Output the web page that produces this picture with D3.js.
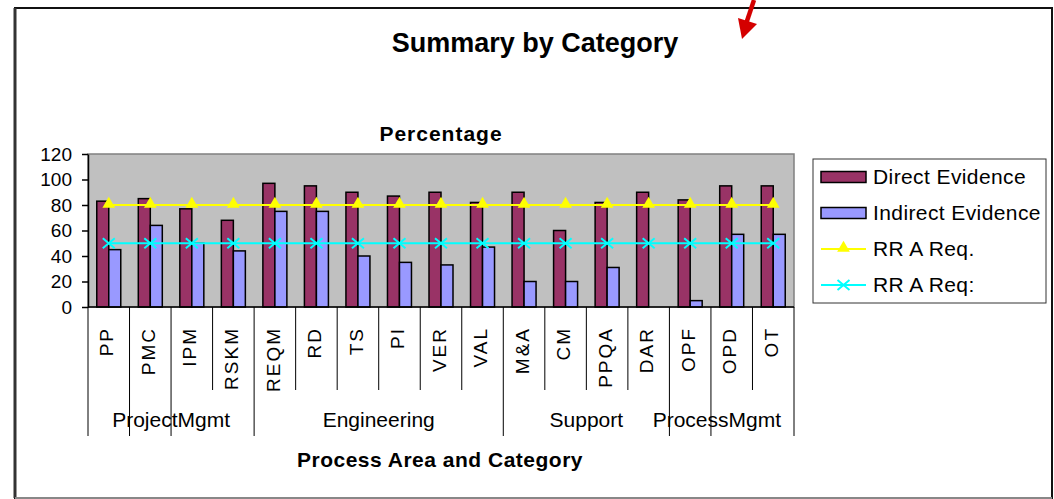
<!DOCTYPE html>
<html>
<head>
<meta charset="utf-8">
<script src="https://cdn.jsdelivr.net/npm/d3@7"></script>
<style>
  html, body { margin: 0; padding: 0; background: #fff; }
  svg { display: block; }
</style>
</head>
<body>
<div id="chart"></div>
<script>
// ---- data ----
const categories = ["PP", "PMC", "IPM", "RSKM", "REQM", "RD", "TS", "PI", "VER", "VAL",
                    "M&A", "CM", "PPQA", "DAR", "OPF", "OPD", "OT"];
const direct   = [83, 85, 77, 68, 97, 95, 90, 87, 90, 82, 90, 60, 82, 90, 84, 95, 95];
const indirect = [45, 64, 50, 44, 75, 75, 40, 35, 33, 47, 20, 20, 31, 0, 5, 57, 57];
const reqA     = categories.map(() => 80);   // RR A Req.
const reqB     = categories.map(() => 50);   // RR A Req:
const groups = [
  { name: "ProjectMgmt", start: 0, end: 4 },
  { name: "Engineering", start: 4, end: 10 },
  { name: "Support", start: 10, end: 14 },
  { name: "ProcessMgmt", start: 14, end: 17 },
];
// category boundaries that carry the long divider (as Excel drew them)
const longDividers = [0, 1, 2, 4, 10, 14, 15, 17];
const yTicks = [0, 20, 40, 60, 80, 100, 120];

const COLORS = {
  direct: "#993366",
  indirect: "#9999ff",
  reqA: "#ffff00",
  reqB: "#00ffff",
  plotBg: "#c0c0c0",
  arrow: "#d40000",
};
const FONT = "'Liberation Sans', Arial, sans-serif";

// ---- layout ----
const W = 1054, H = 499;
const plot = { x0: 88, x1: 794, y0: 154, y1: 307 };

const svg = d3.select("#chart").append("svg")
  .attr("width", W).attr("height", H)
  .style("font-family", FONT);

// outer frame
svg.append("rect")
  .attr("x", 15).attr("y", 8).attr("width", 1037).attr("height", 490)
  .attr("fill", "#fff").attr("stroke", "#111").attr("stroke-width", 2);
svg.append("line").attr("x1", 15).attr("y1", 8).attr("x2", 15).attr("y2", 498)
  .attr("stroke", "#333").attr("stroke-width", 3);
svg.append("line").attr("x1", 15).attr("y1", 498).attr("x2", 1052).attr("y2", 498)
  .attr("stroke", "#888").attr("stroke-width", 2);

// red arrow annotation
svg.append("path")
  .attr("d", "M754,0 L746,24")
  .attr("stroke", COLORS.arrow).attr("stroke-width", 4.5).attr("fill", "none");
svg.append("path")
  .attr("d", "M738,18 L757,24 L742,39 Z")
  .attr("fill", COLORS.arrow);

// titles
svg.append("text")
  .attr("x", 535).attr("y", 52).attr("text-anchor", "middle")
  .attr("font-size", 27).attr("font-weight", 700)
  .text("Summary by Category");
svg.append("text")
  .attr("x", 441).attr("y", 141).attr("text-anchor", "middle")
  .attr("font-size", 21).attr("font-weight", 700).attr("letter-spacing", 1)
  .text("Percentage");
svg.append("text")
  .attr("x", 440).attr("y", 467).attr("text-anchor", "middle")
  .attr("font-size", 21).attr("font-weight", 700).attr("letter-spacing", 0.5)
  .text("Process Area and Category");

// ---- scales ----
const x = d3.scaleBand().domain(categories).range([plot.x0, plot.x1]);
const groupW = 24;
const xs = d3.scaleBand().domain(["direct", "indirect"]).range([0, groupW]);
const y = d3.scaleLinear().domain([0, 120]).range([plot.y1, plot.y0]);
const cx = (d) => x(d) + x.bandwidth() / 2;

// plot background
svg.append("rect")
  .attr("x", plot.x0).attr("y", plot.y0)
  .attr("width", plot.x1 - plot.x0).attr("height", plot.y1 - plot.y0)
  .attr("fill", COLORS.plotBg)
  .attr("stroke", "#808080").attr("stroke-width", 1.5);

// bars
const rows = categories.map((c, i) => ({ cat: c, direct: direct[i], indirect: indirect[i] }));
const barG = svg.append("g");
["direct", "indirect"].forEach((key) => {
  barG.selectAll(`rect.${key}`)
    .data(rows.filter((d) => d[key] > 0))
    .join("rect")
    .attr("class", key)
    .attr("x", (d) => x(d.cat) + (x.bandwidth() - groupW) / 2 + xs(key))
    .attr("width", xs.bandwidth())
    .attr("y", (d) => y(d[key]))
    .attr("height", (d) => y(0) - y(d[key]))
    .attr("fill", COLORS[key])
    .attr("stroke", "#000").attr("stroke-width", 1.5);
});

// requirement lines
const line = d3.line().x((d, i) => cx(categories[i])).y((d) => y(d));
svg.append("path").datum(reqA).attr("d", line)
  .attr("fill", "none").attr("stroke", COLORS.reqA).attr("stroke-width", 2);
svg.append("path").datum(reqB).attr("d", line)
  .attr("fill", "none").attr("stroke", COLORS.reqB).attr("stroke-width", 2);

const triangle = d3.symbol(d3.symbolTriangle, 70);
const times = "M-6,-5L6,5M-6,5L6,-5";

svg.append("g").selectAll("path")
  .data(reqA)
  .join("path")
  .attr("transform", (d, i) => `translate(${cx(categories[i])},${y(d) - 1})`)
  .attr("d", triangle)
  .attr("fill", COLORS.reqA);

svg.append("g").selectAll("path")
  .data(reqB)
  .join("path")
  .attr("transform", (d, i) => `translate(${cx(categories[i])},${y(d)})`)
  .attr("d", times)
  .attr("stroke", COLORS.reqB).attr("stroke-width", 2).attr("fill", "none");

// y axis
const yAxis = svg.append("g")
  .attr("transform", `translate(${plot.x0},0)`)
  .call(d3.axisLeft(y).tickValues(yTicks).tickSize(6).tickSizeOuter(0).tickPadding(10));
yAxis.select(".domain").attr("stroke", "#000").attr("stroke-width", 1.5);
yAxis.selectAll(".tick line").attr("stroke", "#000").attr("stroke-width", 1.5);
yAxis.selectAll(".tick text")
  .attr("font-size", 19).attr("font-family", FONT).attr("fill", "#000");

// x axis baseline
svg.append("line")
  .attr("x1", plot.x0).attr("x2", plot.x1)
  .attr("y1", y(0)).attr("y2", y(0))
  .attr("stroke", "#000").attr("stroke-width", 1.5);

// category dividers
const boundaries = d3.range(categories.length + 1);
const boundaryX = (i) => i < categories.length ? x(categories[i]) : plot.x1;
svg.append("g").selectAll("line")
  .data(boundaries)
  .join("line")
  .attr("x1", boundaryX).attr("x2", boundaryX)
  .attr("y1", y(0))
  .attr("y2", (i) => longDividers.includes(i) ? 436 : 390)
  .attr("stroke", "#000").attr("stroke-width", 1);

// category labels
svg.append("g").selectAll("text")
  .data(categories)
  .join("text")
  .attr("transform", (d) => `translate(${cx(d) - 2},327) rotate(-90)`)
  .attr("text-anchor", "end")
  .attr("dy", "0.35em")
  .attr("font-size", 19)
  .attr("letter-spacing", 2)
  .text((d) => d);

// group labels (kept inside their span, like Excel does near the edge)
svg.append("g").selectAll("text")
  .data(groups)
  .join("text")
  .attr("y", 427)
  .attr("text-anchor", "middle")
  .attr("font-size", 21)
  .text((g) => g.name)
  .attr("x", function (g) {
    const a = boundaryX(g.start), b = boundaryX(g.end);
    const half = this.getComputedTextLength() / 2;
    return Math.min((a + b) / 2, b - 13 - half);
  });

// ---- legend ----
const legend = svg.append("g");
legend.append("rect")
  .attr("x", 813).attr("y", 159).attr("width", 233).attr("height", 144)
  .attr("fill", "#fff").attr("stroke", "#333").attr("stroke-width", 1);

const legendItems = [
  { label: "Direct Evidence", type: "bar", color: COLORS.direct },
  { label: "Indirect Evidence", type: "bar", color: COLORS.indirect },
  { label: "RR A Req.", type: "tri", color: COLORS.reqA },
  { label: "RR A Req:", type: "x", color: COLORS.reqB },
];
const legendY = d3.scalePoint().domain(legendItems.map((d) => d.label)).range([177, 285]);

legendItems.forEach((it) => {
  const ly = legendY(it.label);
  const g = legend.append("g").attr("transform", `translate(0,${ly})`);
  if (it.type === "bar") {
    g.append("rect").attr("x", 821).attr("y", -5.5).attr("width", 45).attr("height", 11)
      .attr("fill", it.color).attr("stroke", "#000").attr("stroke-width", 1.5);
  } else {
    g.append("line").attr("x1", 821).attr("x2", 866).attr("y1", 0).attr("y2", 0)
      .attr("stroke", it.color).attr("stroke-width", 2);
    if (it.type === "tri") {
      g.append("path").attr("transform", "translate(843.5,-1)").attr("d", triangle).attr("fill", it.color);
    } else {
      g.append("path").attr("transform", "translate(843.5,0)").attr("d", times)
        .attr("stroke", it.color).attr("stroke-width", 2).attr("fill", "none");
    }
  }
  g.append("text").attr("x", 873).attr("y", 0).attr("dy", "0.35em")
    .attr("font-size", 21).attr("letter-spacing", 0.4).text(it.label);
});
</script>
</body>
</html>
